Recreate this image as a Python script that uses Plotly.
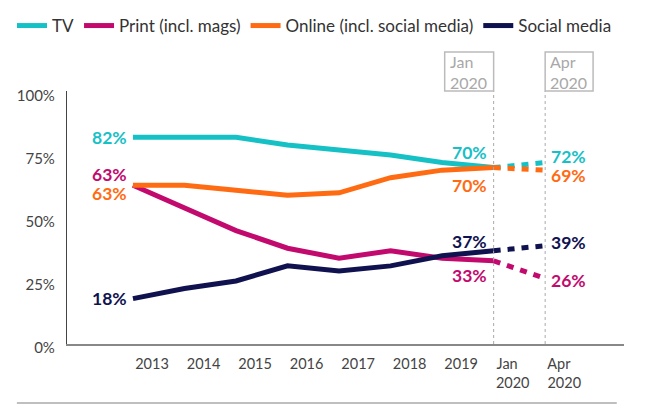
import plotly.graph_objects as go

periods = ["2013", "2014", "2015", "2016", "2017", "2018", "2019", "Jan 2020", "Apr 2020"]
tick_text = ["2013", "2014", "2015", "2016", "2017", "2018", "2019",
             "Jan&nbsp;&nbsp;&nbsp;<br>2020", "Apr&nbsp;&nbsp;&nbsp;<br>2020"]
tv = [82, 82, 82, 79, 77, 75, 72, 70, 72]
print_mags = [63, 54, 45, 38, 34, 37, 34, 33, 26]
online = [63, 63, 61, 59, 60, 66, 69, 70, 69]
social = [18, 22, 25, 31, 29, 31, 35, 37, 39]

series = [
    ("TV", tv, "#16C1C6"),
    ("Print (incl. mags)", print_mags, "#C20A6E"),
    ("Online (incl. social media)", online, "#FF6B12"),
    ("Social media", social, "#10124F"),
]

idx = list(range(len(periods)))
jan = periods.index("Jan 2020")
apr = periods.index("Apr 2020")

fig = go.Figure()
for name, vals, col in series:
    fig.add_trace(go.Scatter(
        x=idx[:jan + 1], y=vals[:jan + 1], mode="lines", name=name,
        line=dict(color=col, width=5), hoverinfo="skip"))
for name, vals, col in series:
    fig.add_trace(go.Scatter(
        x=idx[jan:apr + 1], y=vals[jan:apr + 1], mode="lines", name=name,
        showlegend=False, line=dict(color=col, width=5, dash="7px,7px"),
        hoverinfo="skip"))

# data labels: (series index, period index, xanchor, xshift, yshift)
label_spec = [
    (0, 0, "right", -5, 0), (1, 0, "right", -5, 11), (2, 0, "right", -5, -8), (3, 0, "right", -5, 0),
    (0, jan, "right", -6, 15), (2, jan, "right", -6, -18), (3, jan, "right", -6, 9), (1, jan, "right", -6, -15),
    (0, apr, "left", 5, 6), (2, apr, "left", 5, -5), (3, apr, "left", 5, 3), (1, apr, "left", 5, -2.5),
]
for si, pi, xa, xs, ys in label_spec:
    name, vals, col = series[si]
    fig.add_annotation(x=idx[pi], y=vals[pi], text=f"{vals[pi]}%", showarrow=False,
                       xanchor=xa, yanchor="middle", xshift=xs, yshift=ys, borderpad=0,
                       font=dict(family="Lato", size=17.5, color=col, weight="bold"))

# vertical dotted markers and boxed headers
for i, label, side in [(jan, "Jan<br>2020", "left"), (apr, "Apr<br>2020", "right")]:
    fig.add_shape(type="line", xref="x", yref="paper", x0=i, x1=i, y0=0, y1=1,
                  line=dict(color="#AAAAAA", width=1, dash="dot"))
    x0, x1 = (i - 0.95, i) if side == "left" else (i, i + 0.93)
    fig.add_shape(type="rect", xref="x", yref="paper", x0=x0, x1=x1, y0=1.0, y1=1.154,
                  line=dict(color="#BBBBBB", width=1.5))
    fig.add_annotation(x=x0, y=1.077, xref="x", yref="paper", text=label, showarrow=False,
                       xanchor="left", yanchor="middle", xshift=3, align="left",
                       font=dict(family="Lato", size=16, color="#A8A8A8"))

# bottom rule
fig.add_shape(type="line", xref="paper", yref="paper", x0=-0.09, x1=0.987, y0=-0.233, y1=-0.233,
              line=dict(color="#AAAAAA", width=1.5))

fig.update_layout(
    width=645, height=406,
    margin=dict(l=67, r=21, t=91, b=62, autoexpand=False),
    paper_bgcolor="white", plot_bgcolor="white",
    showlegend=True,
    legend=dict(orientation="h", x=(12 - 67) / 557, xanchor="left", y=(344 - 26) / 253, yanchor="middle",
                font=dict(family="Lato", size=17, color="#333333"),
                itemwidth=30, tracegroupgap=0, bgcolor="rgba(0,0,0,0)"),
    xaxis=dict(range=[-1.28, 9.53], showgrid=False, zeroline=False,
               showline=True, linecolor="#888888", linewidth=1.5,
               tickvals=[i + 0.37 for i in idx], ticktext=tick_text, ticks="",
               ticklabelstandoff=6,
               tickfont=dict(family="Lato", size=14.5, color="#444444")),
    yaxis=dict(range=[0, 100.4], showgrid=False, zeroline=False,
               showline=True, linecolor="#444444", linewidth=1.2,
               tickvals=[0, 25, 50, 75, 100], ticktext=["0%", "25%", "50%", "75%", "100%"],
               ticks="", ticklabelstandoff=8, ticklabelshift=4,
               tickfont=dict(family="Lato", size=15, color="#444444")),
)

fig.write_html("out.html", config={"displayModeBar": False},
               post_script="document.body.style.margin='0';")
